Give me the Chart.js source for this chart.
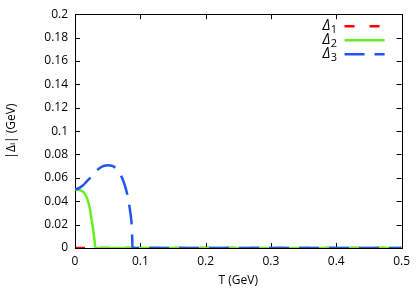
<!DOCTYPE html>
<html>
<head>
<meta charset="utf-8">
<script src="https://cdn.jsdelivr.net/npm/chart.js@4/dist/chart.umd.min.js"></script>
<style>
  html, body { margin: 0; padding: 0; background: #fff; }
  #wrap { width: 416px; height: 292px; }
</style>
</head>
<body>
<div id="wrap"><canvas id="gap"></canvas></div>
<script>
// Temperature samples (GeV) and gap values (GeV)
const delta1T = [0, 0.1, 0.2, 0.3, 0.4, 0.5];
const delta1V = [0, 0, 0, 0, 0, 0];

const delta2T = [0, 0.006, 0.0126, 0.017, 0.02, 0.023, 0.025, 0.028, 0.03, 0.0312, 0.1, 0.2, 0.3, 0.4, 0.5];
const delta2V = [0.05, 0.0497, 0.048, 0.0445, 0.04, 0.033, 0.026, 0.015, 0.006, 0, 0, 0, 0, 0, 0];

const delta3T = [0, 0.005, 0.0115, 0.018, 0.025, 0.032, 0.038, 0.045, 0.051, 0.057, 0.063, 0.068, 0.072, 0.076, 0.08, 0.083, 0.0855, 0.087, 0.0876, 0.088, 0.1, 0.2, 0.3, 0.4, 0.5];
const delta3V = [0.05, 0.0509, 0.0532, 0.057, 0.061, 0.0655, 0.0685, 0.0703, 0.0707, 0.0702, 0.068, 0.0645, 0.06, 0.054, 0.046, 0.037, 0.027, 0.018, 0.009, 0, 0, 0, 0, 0, 0];

const xTicks = [0, 0.1, 0.2, 0.3, 0.4, 0.5];
const xTickLabels = ['0', '0.1', '0.2', '0.3', '0.4', '0.5'];
const yTicks = [0, 0.02, 0.04, 0.06, 0.08, 0.1, 0.12, 0.14, 0.16, 0.18, 0.2];
const yTickLabels = ['0', '0.02', '0.04', '0.06', '0.08', '0.1', '0.12', '0.14', '0.16', '0.18', '0.2'];

const seriesNames = ['Δ', 'Δ', 'Δ'];
const seriesSubs = ['1', '2', '3'];

const FONT = '"Open Sans", "DejaVu Sans", sans-serif';

function toPoints(xs, ys) {
    return xs.map((x, i) => ({ x: x, y: ys[i] }));
}

// Frame and inward ticks; drawn right after the red series so it sits on top of it
const frameTicks = {
    id: 'frameTicks',
    afterDatasetDraw(chart, args) {
        if (args.index !== 0) return;
        const ctx = chart.ctx;
        const a = chart.chartArea;
        const xs = chart.scales.x, ys = chart.scales.y;
        const len = 5;
        ctx.save();
        ctx.strokeStyle = '#000';
        ctx.lineWidth = 1;
        ctx.beginPath();
        xTicks.forEach(v => {
            const px = Math.round(xs.getPixelForValue(v)) + 0.5;
            ctx.moveTo(px, a.bottom); ctx.lineTo(px, a.bottom - len);
            ctx.moveTo(px, a.top); ctx.lineTo(px, a.top + len);
        });
        yTicks.forEach(v => {
            const py = Math.round(ys.getPixelForValue(v)) + 0.5;
            ctx.moveTo(a.left, py); ctx.lineTo(a.left + len, py);
            ctx.moveTo(a.right, py); ctx.lineTo(a.right - len, py);
        });
        ctx.stroke();
        ctx.strokeRect(Math.round(a.left) + 0.5, Math.round(a.top) + 0.5,
            Math.round(a.right - a.left), Math.round(a.bottom - a.top));
        ctx.restore();
    }
};

// Legend: label on the left, line sample on the right
const keyBox = {
    id: 'keyBox',
    afterDraw(chart) {
        const ctx = chart.ctx;
        const a = chart.chartArea;
        ctx.save();
        chart.data.datasets.forEach((ds, i) => {
            const y = a.top + 12 + i * 14;
            const x1 = a.right - 57, x2 = a.right - 17;
            ctx.font = '11px ' + FONT;
            ctx.textBaseline = 'middle';
            ctx.fillStyle = '#000';
            const subW = ctx.measureText(seriesSubs[i]).width;
            ctx.font = 'italic 14px ' + FONT;
            const mainW = ctx.measureText(seriesNames[i]).width;
            const tx = x1 - 8 - subW - mainW;
            ctx.fillText(seriesNames[i], tx, y);
            ctx.font = '11px ' + FONT;
            ctx.fillText(seriesSubs[i], tx + mainW + 0.5, y + 4);
            ctx.strokeStyle = ds.borderColor;
            ctx.lineWidth = ds.borderWidth;
            ctx.setLineDash(ds.borderDash || []);
            ctx.beginPath();
            ctx.moveTo(x1, y); ctx.lineTo(x2, y);
            ctx.stroke();
        });
        ctx.restore();
    }
};

const ctx = document.getElementById('gap').getContext('2d');
new Chart(ctx, {
    type: 'line',
    data: {
        datasets: [{
            label: 'Δ1',
            data: toPoints(delta1T, delta1V),
            borderColor: '#ff0000',
            borderWidth: 2.5,
            borderDash: [10, 15],
            clip: 0,
            order: 2
        }, {
            label: 'Δ2',
            data: toPoints(delta2T, delta2V),
            borderColor: '#66ee22',
            borderWidth: 2.5,
            clip: 0,
            order: 1
        }, {
            label: 'Δ3',
            data: toPoints(delta3T, delta3V),
            borderColor: '#1f55ee',
            borderWidth: 2.5,
            borderDash: [20, 10],
            clip: 0,
            order: 0
        }]
    },
    options: {
        responsive: true,
        maintainAspectRatio: false,
        animation: false,
        layout: { padding: { top: 8, right: 11, left: 0, bottom: 0 } },
        elements: {
            point: { radius: 0 },
            line: { tension: 0.35, cubicInterpolationMode: 'monotone', fill: false }
        },
        plugins: {
            legend: { display: false },
            tooltip: { enabled: false }
        },
        scales: {
            x: {
                type: 'linear',
                min: 0,
                max: 0.5,
                afterBuildTicks: s => { s.ticks = xTicks.map(v => ({ value: v })); },
                afterFit: s => { s.height = 44; },
                grid: { display: false, drawTicks: false },
                border: { display: false },
                ticks: {
                    padding: 6,
                    color: '#000',
                    font: { family: FONT, size: 12 },
                    maxRotation: 0,
                    callback: (v, i) => xTickLabels[i]
                },
                title: {
                    display: true,
                    text: 'T (GeV)',
                    color: '#000',
                    font: { family: FONT, size: 12 },
                    padding: { top: 2 }
                }
            },
            y: {
                type: 'linear',
                min: 0,
                max: 0.2,
                afterBuildTicks: s => { s.ticks = yTicks.map(v => ({ value: v })); },
                afterFit: s => { s.width = 75; },
                grid: { display: false, drawTicks: false },
                border: { display: false },
                ticks: {
                    padding: 7,
                    color: '#000',
                    font: { family: FONT, size: 12 },
                    callback: (v, i) => yTickLabels[i]
                },
                title: {
                    display: true,
                    text: '|Δᵢ| (GeV)',
                    color: '#000',
                    font: { family: FONT, size: 12 },
                    padding: { bottom: 6 }
                }
            }
        }
    },
    plugins: [frameTicks, keyBox]
});
</script>
</body>
</html>
